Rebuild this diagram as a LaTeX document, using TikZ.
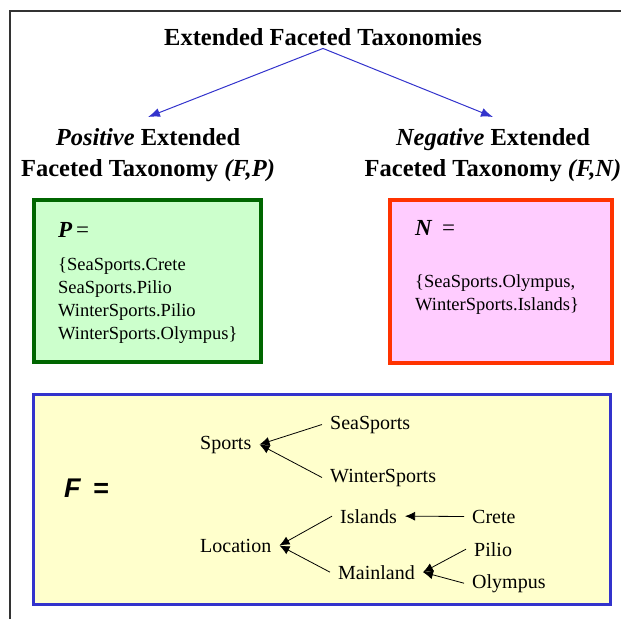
\documentclass[tikz,border=0pt]{standalone}
\usepackage{fontspec}
\setmainfont{Liberation Serif}
\setsansfont{Liberation Sans}
\usetikzlibrary{arrows.meta}
\definecolor{pgreen}{HTML}{006600}
\definecolor{pgreenfill}{HTML}{CCFFCC}
\definecolor{nred}{HTML}{FF3300}
\definecolor{npinkfill}{HTML}{FFCCFF}
\definecolor{fblue}{HTML}{3333CC}
\definecolor{fyellowfill}{HTML}{FFFFCC}
\tikzstyle{heading} = [font=\fontsize{24.5}{31}\selectfont\bfseries, align=center, inner sep=3pt]
\tikzstyle{setbox} = [draw, line width=4pt, inner sep=0pt]
\tikzstyle{settext} = [font=\fontsize{18.5}{23}\selectfont, align=left, inner sep=0pt, anchor=north west]
\tikzstyle{setlabel} = [font=\fontsize{23}{26}\selectfont, inner sep=0pt, anchor=base west]
\tikzstyle{term} = [font=\fontsize{20}{24}\selectfont, inner xsep=8pt, inner ysep=2pt, anchor=base west]
\tikzstyle{arrow} = [line width=0.8pt, -{Latex[length=10pt,width=9pt]}]

\begin{document}
\begin{tikzpicture}[
    x=1pt, y=-1pt,
    split/.style={line width=1pt, fblue, -{Latex[length=12pt,width=9pt]}}
]
\useasboundingbox (0,0) rectangle (621,619);

% Frame
\draw[line width=2pt, black!80] (10,619) -- (10,11) -- (621,11);

% Headings
\node[heading, anchor=base] (title) at (323,45) {Extended Faceted Taxonomies};
\node[heading, anchor=north, inner ysep=11pt] (positive) at (148,117) {\textit{Positive} Extended\\Faceted Taxonomy \textit{(F,P)}};
\node[heading, anchor=north, inner ysep=11pt] (negative) at (493,117) {\textit{Negative} Extended\\Faceted Taxonomy \textit{(F,N)}};

\draw[split] (title.south) -- (positive.north);
\draw[split] (title.south) -- (negative.north);

% Boxes
\node[setbox, draw=pgreen, fill=pgreenfill, minimum width=227pt, minimum height=162pt] (pbox) at (147.5,281) {};
\node[setbox, draw=nred, fill=npinkfill, minimum width=222pt, minimum height=163pt] (nbox) at (501,281.5) {};
\node[setbox, line width=3pt, draw=fblue, fill=fyellowfill, minimum width=577pt, minimum height=210pt] (fbox) at (322,499.5) {};

% Sets P and N
\node[setlabel] (plabel) at (58,237) {\textbf{\textit{P}}\,=};
\node[settext] (pset) at (58,257) {\{SeaSports.Crete\\SeaSports.Pilio\\WinterSports.Pilio\\WinterSports.Olympus\}};
\node[setlabel] (nlabel) at (415,235) {\textbf{\textit{N}} \,=};
\node[settext] (nset) at (415,274) {\{SeaSports.Olympus,\\WinterSports.Islands\}};

% Taxonomy F
\node[font=\fontsize{27}{30}\selectfont\sffamily\bfseries\itshape, anchor=west, inner sep=0pt] (flabel) at (64,488) {F\hspace{0.45em}=};

\node[term] (sports) at (192,449) {Sports};
\node[term] (seasports) at (322,429) {SeaSports};
\node[term] (wintersports) at (322,482) {WinterSports};
\node[term] (location) at (192,552) {Location};
\node[term] (islands) at (332,523) {Islands};
\node[term] (crete) at (464,523) {Crete};
\node[term] (mainland) at (330,579) {Mainland};
\node[term] (pilio) at (466,556) {Pilio};
\node[term] (olympus) at (464,588) {Olympus};

\draw[arrow] (seasports.west) -- (sports.east);
\draw[arrow] (wintersports.west) -- (sports.east);
\draw[arrow] (islands.west) -- (location.east);
\draw[arrow] (mainland.west) -- (location.east);
\draw[arrow] (crete.west) -- (islands.east);
\draw[arrow] (pilio.west) -- (mainland.east);
\draw[arrow] (olympus.west) -- (mainland.east);

\end{tikzpicture}
\end{document}
